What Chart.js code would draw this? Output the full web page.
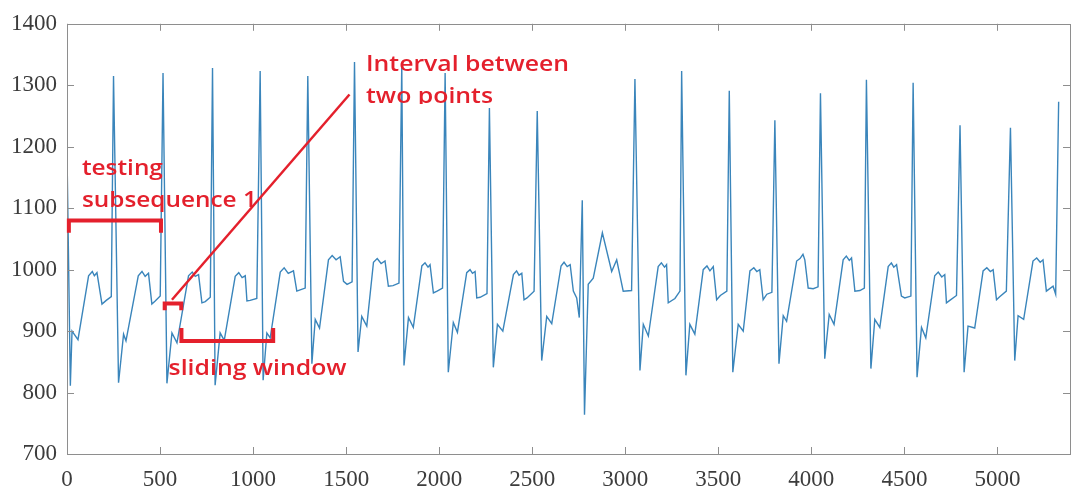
<!DOCTYPE html>
<html>
<head>
<meta charset="utf-8">
<script src="https://cdn.jsdelivr.net/npm/chart.js@4.4.1/dist/chart.umd.min.js"></script>
<style>
  html, body { margin: 0; padding: 0; background: #fff; }
  #wrap { width: 1073px; height: 495px; }
</style>
</head>
<body>
<div id="wrap"><canvas id="ecgChart" width="1073" height="495"></canvas></div>
<script>
// Sample index of each vertex (one heartbeat per line)
const sampleX = [
  0, 18, 27, 59, 116, 136, 147, 161, 188, 211, 238,
  250, 277, 304, 317, 383, 403, 420, 438, 456, 474, 501,
  516, 537, 564, 591, 653, 673, 689, 707, 725, 743, 770,
  782, 796, 823, 845, 904, 923, 941, 958, 967, 984, 1020,
  1038, 1054, 1074, 1092, 1146, 1167, 1189, 1217, 1235, 1253, 1280,
  1294, 1316, 1334, 1357, 1405, 1425, 1446, 1468, 1486, 1505, 1532,
  1545, 1564, 1584, 1611, 1647, 1667, 1688, 1709, 1727, 1752, 1784,
  1799, 1811, 1835, 1861, 1907, 1924, 1940, 1951, 1969, 1989, 2018,
  2032, 2049, 2076, 2098, 2148, 2166, 2179, 2193, 2202, 2220, 2257,
  2270, 2291, 2313, 2342, 2399, 2416, 2429, 2444, 2456, 2472, 2510,
  2527, 2551, 2578, 2605, 2655, 2671, 2688, 2704, 2721, 2739, 2753,
  2769, 2781, 2801, 2828, 2877, 2927, 2954, 2989, 3034,
  3052, 3079, 3097, 3124, 3177, 3194, 3211, 3222, 3231, 3267, 3294,
  3303, 3326, 3347, 3374, 3419, 3439, 3455, 3473, 3491, 3511, 3546,
  3559, 3578, 3607, 3634, 3670, 3691, 3707, 3723, 3741, 3761, 3788,
  3804, 3826, 3849, 3867, 3921, 3939, 3955, 3965, 3983, 4010, 4036,
  4049, 4072, 4096, 4122, 4171, 4188, 4204, 4216, 4234, 4261, 4285,
  4296, 4320, 4341, 4368, 4413, 4430, 4443, 4458, 4484, 4502, 4535,
  4547, 4568, 4592, 4615, 4663, 4682, 4701, 4717, 4726, 4744, 4780,
  4799, 4821, 4842, 4878, 4923, 4943, 4962, 4977, 4995, 5012, 5048,
  5070, 5093, 5111, 5141, 5191, 5211, 5230, 5245, 5263, 5299, 5313,
  5329
];

// Signal amplitude at each vertex
const signalY = [
  1190, 811, 900, 886, 990, 997, 990, 995, 944, 950, 956,
  1315, 816, 895, 884, 990, 997, 989, 994, 944, 949, 957,
  1320, 815, 897, 881, 990, 996, 989, 992, 946, 948, 955,
  1328, 812, 897, 885, 989, 995, 987, 990, 949, 950, 953,
  1323, 820, 897, 889, 996, 1003, 994, 998, 965, 967, 970,
  1315, 847, 919, 905, 1016, 1023, 1016, 1021, 981, 976, 980,
  1338, 866, 924, 908, 1012, 1018, 1010, 1014, 973, 974, 978,
  1332, 844, 922, 906, 1006, 1011, 1004, 1008, 962, 965, 970,
  1320, 833, 914, 898, 995, 1000, 994, 997, 954, 955, 961,
  1263, 841, 911, 900, 992, 998, 991, 994, 951, 954, 965,
  1258, 852, 924, 912, 1006, 1012, 1005, 1008, 965, 954, 922,
  1113, 764, 976, 986, 1060, 997, 1016, 965, 966,
  1310, 836, 911, 892, 1005, 1011, 1004, 1008, 946, 953, 965,
  1323, 828, 911, 895, 1000, 1006, 998, 1005, 951, 958, 965,
  1291, 833, 911, 900, 998, 1003, 997, 1000, 951, 960, 963,
  1243, 847, 925, 916, 1014, 1018, 1025, 1016, 970, 969, 972,
  1287, 855, 927, 911, 1016, 1022, 1015, 1019, 965, 966, 970,
  1309, 839, 919, 906, 1005, 1011, 1004, 1008, 957, 954, 957,
  1304, 825, 906, 889, 990, 996, 988, 992, 946, 950, 958,
  1235, 833, 908, 905, 998, 1003, 997, 1000, 951, 956, 965,
  1231, 852, 925, 919, 1014, 1019, 1012, 1016, 965, 973, 960,
  1273
];

// Axis ticks
const xTickValues = [0, 500, 1000, 1500, 2000, 2500, 3000, 3500, 4000, 4500, 5000];
const yTickValues = [700, 800, 900, 1000, 1100, 1200, 1300, 1400];

const RED = 'rgb(228,32,44)';

// Box frame with inward tick marks (MATLAB look)
const framePlugin = {
  id: 'frame',
  afterDatasetsDraw(chart) {
    const { ctx, chartArea: a, scales } = chart;
    const len = 7;
    ctx.save();
    ctx.strokeStyle = '#8e8e8e';
    ctx.lineWidth = 1;
    ctx.strokeRect(Math.round(a.left) + 0.5, Math.round(a.top) + 0.5,
      Math.round(a.right - a.left), Math.round(a.bottom - a.top));
    ctx.beginPath();
    xTickValues.forEach(v => {
      const px = Math.round(scales.x.getPixelForValue(v)) + 0.5;
      ctx.moveTo(px, a.bottom); ctx.lineTo(px, a.bottom - len);
      ctx.moveTo(px, a.top); ctx.lineTo(px, a.top + len);
    });
    yTickValues.forEach(v => {
      const py = Math.round(scales.y.getPixelForValue(v)) + 0.5;
      ctx.moveTo(a.left, py); ctx.lineTo(a.left + len, py);
      ctx.moveTo(a.right, py); ctx.lineTo(a.right - len, py);
    });
    ctx.stroke();
    ctx.restore();
  }
};

// Red annotations, placed in data coordinates
function drawText(ctx, text, x, y, width, clipY) {
  ctx.save();
  if (clipY) {
    ctx.beginPath();
    ctx.rect(0, 0, 1073, clipY);
    ctx.clip();
  }
  const w = ctx.measureText(text).width;
  ctx.translate(x, y);
  ctx.scale(width / w, 1);
  ctx.fillText(text, 0, 0);
  ctx.restore();
}

const notesPlugin = {
  id: 'notes',
  afterDraw(chart) {
    const { ctx, scales } = chart;
    const X = v => scales.x.getPixelForValue(v);
    const Y = v => scales.y.getPixelForValue(v);
    ctx.save();
    ctx.strokeStyle = RED;
    ctx.fillStyle = RED;
    ctx.lineJoin = 'miter';
    ctx.lineCap = 'butt';

    // brackets
    const bracket = (x1, x2, yh, yt) => {
      ctx.beginPath();
      ctx.moveTo(X(x1), Y(yt));
      ctx.lineTo(X(x1), Y(yh));
      ctx.lineTo(X(x2), Y(yh));
      ctx.lineTo(X(x2), Y(yt));
      ctx.stroke();
    };
    ctx.lineWidth = 4;
    bracket(10, 505, 1080, 1060);   // testing subsequence
    bracket(525, 614, 945, 934);    // interval
    bracket(615, 1108, 884, 905);   // sliding window

    // pointer line
    ctx.lineWidth = 2.5;
    ctx.beginPath();
    ctx.moveTo(X(564), Y(951));
    ctx.lineTo(X(1518), Y(1285));
    ctx.stroke();

    ctx.font = '600 21px "Open Sans"';
    ctx.textBaseline = 'alphabetic';
    drawText(ctx, 'testing', X(80), Y(1154), 81);
    drawText(ctx, 'subsequence 1', X(80), Y(1102), 175);
    drawText(ctx, 'Interval between', X(1607), Y(1323), 203);
    drawText(ctx, 'two points', X(1607), Y(1271), 127, Y(1271) + 1);
    drawText(ctx, 'sliding window', X(546), Y(828), 178);
    ctx.restore();
  }
};

const tickFont = { family: '"Liberation Serif", "Times New Roman", serif', size: 23 };
const plainLabel = v => String(v);

new Chart(document.getElementById('ecgChart'), {
  type: 'line',
  data: {
    datasets: [{
      data: sampleX.map((x, i) => ({ x: x, y: signalY[i] })),
      borderColor: '#3a85bb',
      borderWidth: 1.4,
      pointRadius: 0,
      tension: 0,
      fill: false
    }]
  },
  options: {
    responsive: false,
    animation: false,
    devicePixelRatio: 1,
    layout: { padding: { top: 21, right: 3, left: 0, bottom: 0 } },
    plugins: { legend: { display: false }, tooltip: { enabled: false } },
    scales: {
      x: {
        type: 'linear',
        min: 0,
        max: 5390,
        grid: { display: false, drawTicks: false },
        border: { display: false },
        ticks: { font: tickFont, color: '#3c3c3c', padding: 12, maxRotation: 0, callback: plainLabel },
        afterBuildTicks: s => { s.ticks = xTickValues.map(v => ({ value: v })); },
        afterFit: s => { s.height = 41; }
      },
      y: {
        min: 700,
        max: 1400,
        grid: { display: false, drawTicks: false },
        border: { display: false },
        ticks: { font: tickFont, color: '#3c3c3c', padding: 10, callback: plainLabel },
        afterBuildTicks: s => { s.ticks = yTickValues.map(v => ({ value: v })); },
        afterFit: s => { s.width = 67; }
      }
    }
  },
  plugins: [framePlugin, notesPlugin]
});
</script>
</body>
</html>
